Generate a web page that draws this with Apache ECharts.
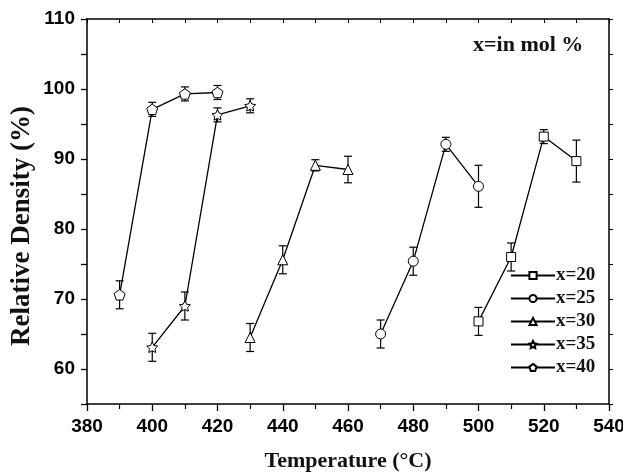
<!DOCTYPE html>
<html><head><meta charset="utf-8">
<script src="https://cdn.jsdelivr.net/npm/echarts@6/dist/echarts.min.js"></script>
<style>html,body{margin:0;padding:0;background:#fff}#c{width:623px;height:472px}</style>
</head><body><div id="c"></div>
<script>
// Data
const xTicks = [380, 400, 420, 440, 460, 480, 500, 520, 540];
const yTicks = [60, 70, 80, 90, 100, 110];
const seriesNames = ['x=20', 'x=25', 'x=30', 'x=35', 'x=40'];
const temps20 = [500, 510, 520, 530];
const dens20  = [66.8, 76.0, 93.2, 89.7];
const err20   = [2.0, 2.0, 1.0, 3.0];
const temps25 = [470, 480, 490, 500];
const dens25  = [65.0, 75.4, 92.1, 86.1];
const err25   = [2.0, 2.0, 1.0, 3.0];
const temps30 = [430, 440, 450, 460];
const dens30  = [64.5, 75.6, 89.1, 88.5];
const err30   = [2.0, 2.0, 0.8, 1.9];
const temps35 = [400, 410, 420, 430];
const dens35  = [63.1, 69.0, 96.3, 97.6];
const err35   = [2.0, 2.0, 1.0, 1.0];
const temps40 = [390, 400, 410, 420];
const dens40  = [70.6, 97.1, 99.3, 99.5];
const err40   = [2.0, 1.0, 1.0, 1.0];

const STAR = 'path://M0,-10 L2.94,-4.05 L9.51,-3.09 L4.76,1.55 L5.88,8.09 L0,5 L-5.88,8.09 L-4.76,1.55 L-9.51,-3.09 L-2.94,-4.05 Z';
const PENT = 'path://M0,-10 L9.51,-3.09 L5.88,8.09 L-5.88,8.09 L-9.51,-3.09 Z';
const symbols = ['rect', 'circle', 'triangle', STAR, PENT];
const symSizes = [9, 10, 10, 11, 11];
const allT = [temps20, temps25, temps30, temps35, temps40];
const allD = [dens20, dens25, dens30, dens35, dens40];
const allE = [err20, err25, err30, err35, err40];

const chart = echarts.init(document.getElementById('c'), null, {renderer: 'canvas'});
const labelFont = {fontFamily: 'Liberation Sans, Arial, sans-serif', fontWeight: 'bold', fontSize: 19, color: '#000'};
const serifBold = 'Liberation Serif, Times New Roman, serif';

const errData = [];
allT.forEach((ts, i) => ts.forEach((t, j) => errData.push([t, allD[i][j] - allE[i][j], allD[i][j] + allE[i][j]])));

const series = [{
  type: 'custom', name: 'err', xAxisIndex: 0, yAxisIndex: 0, z: 1, silent: true,
  data: errData,
  renderItem: function (params, api) {
    const x = api.value(0);
    const p1 = api.coord([x, api.value(2)]);
    const p2 = api.coord([x, api.value(1)]);
    const w = 4;
    const st = {stroke: '#000', lineWidth: 1.2};
    return {type: 'group', children: [
      {type: 'line', shape: {x1: p1[0], y1: p1[1], x2: p2[0], y2: p2[1]}, style: st},
      {type: 'line', shape: {x1: p1[0] - w, y1: p1[1], x2: p1[0] + w, y2: p1[1]}, style: st},
      {type: 'line', shape: {x1: p2[0] - w, y1: p2[1], x2: p2[0] + w, y2: p2[1]}, style: st}
    ]};
  }
}];
seriesNames.forEach((n, i) => {
  series.push({
    type: 'line', name: n, xAxisIndex: 0, yAxisIndex: 0, z: 3,
    data: allT[i].map((t, j) => [t, allD[i][j]]),
    symbol: symbols[i], symbolSize: symSizes[i], symbolKeepAspect: true, showAllSymbol: true,
    lineStyle: {color: '#000', width: 1.3},
    itemStyle: {color: '#fff', borderColor: '#000', borderWidth: 1},
    emphasis: {disabled: true}, animation: false
  });
});

chart.setOption({
  animation: false,
  backgroundColor: '#fff',
  grid: {left: 87, right: 14, top: 19, bottom: 68, containLabel: false, outerBoundsMode: 'none'},
  xAxis: [{
    type: 'value', min: 380, max: 540, interval: 20, position: 'bottom',
    axisLine: {show: true, lineStyle: {color: '#000', width: 1.5}},
    axisTick: {show: true, inside: false, length: 7, lineStyle: {color: '#000', width: 1.3}},
    minorTick: {show: true, splitNumber: 2, length: 5, lineStyle: {color: '#000', width: 1.2}},
    splitLine: {show: false},
    axisLabel: Object.assign({margin: 13, formatter: v => xTicks.includes(v) ? String(v) : ''}, labelFont),
    name: 'Temperature (°C)', nameLocation: 'middle', nameGap: 46,
    nameTextStyle: {fontFamily: serifBold, fontWeight: 'bold', fontSize: 22, color: '#111'}
  }, {
    type: 'value', min: 380, max: 540, interval: 20, position: 'top',
    axisLine: {show: true, lineStyle: {color: '#000', width: 1.5}},
    axisTick: {show: true, inside: true, length: 4, lineStyle: {color: '#000', width: 1}},
    minorTick: {show: true, splitNumber: 2, length: 4, lineStyle: {color: '#000', width: 1}},
    axisLabel: {show: false}, splitLine: {show: false}
  }],
  yAxis: [{
    type: 'value', min: 55, max: 110, interval: 5, position: 'left',
    axisLine: {show: true, lineStyle: {color: '#000', width: 1.5}},
    axisTick: {show: true, inside: false, length: 6, lineStyle: {color: '#000', width: 1.3}},
    splitLine: {show: false},
    axisLabel: Object.assign({margin: 12, formatter: v => yTicks.includes(v) ? String(v) : ''}, labelFont)
  }, {
    type: 'value', min: 55, max: 110, interval: 5, position: 'right',
    axisLine: {show: true, lineStyle: {color: '#000', width: 1.5}},
    axisTick: {show: true, inside: false, length: 4, lineStyle: {color: '#000', width: 1}},
    axisLabel: {show: false}, splitLine: {show: false}
  }],
  legend: {
    orient: 'vertical', left: 505, top: 261, itemWidth: 44, itemHeight: 9, itemGap: 4,
    data: seriesNames, selectedMode: false,
    textStyle: {fontFamily: serifBold, fontWeight: 'bold', fontSize: 19, lineHeight: 13, color: '#111', padding: [0, 0, 0, -4]}
  },
  graphic: [{
    type: 'text', left: 473, top: 34,
    style: {text: 'x=in mol %', font: 'bold 22px ' + serifBold, fill: '#111'}
  }, {
    type: 'text', x: 22, y: 226, rotation: Math.PI / 2,
    style: {text: 'Relative Density (%)', font: 'bold 27px ' + serifBold, fill: '#111', align: 'center', verticalAlign: 'middle'}
  }],
  series: series
});
</script></body></html>
